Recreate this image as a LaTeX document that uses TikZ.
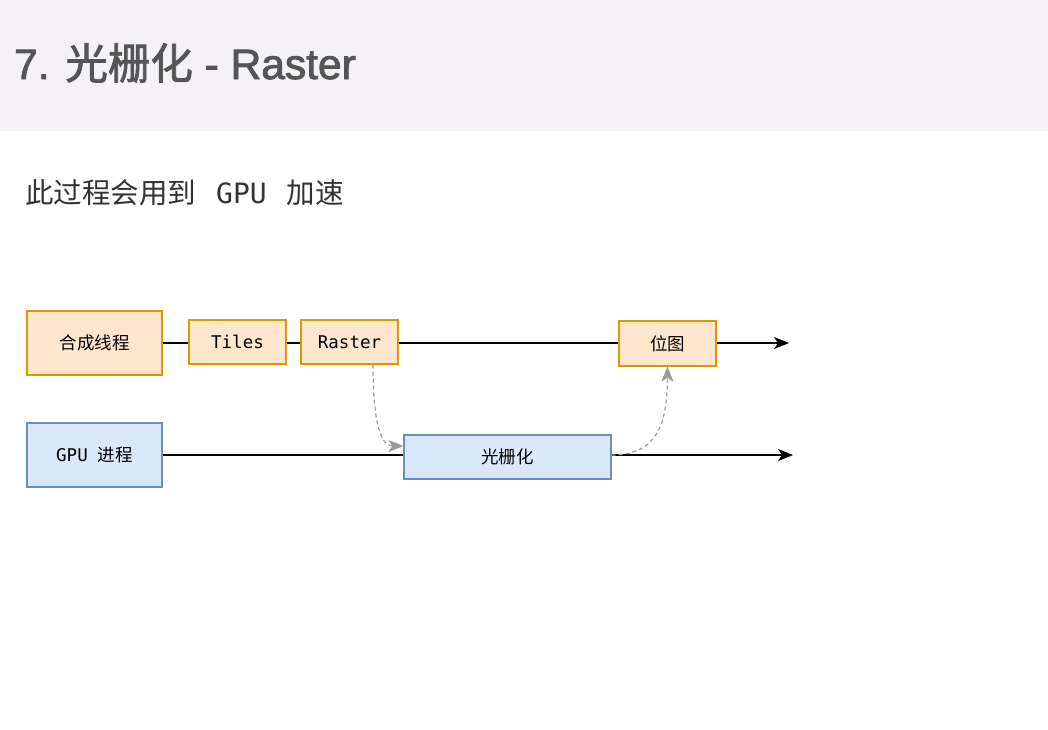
\documentclass[tikz,border=0pt]{standalone}
\usepackage{fontspec}
\setmainfont{Liberation Sans}
\newfontfamily\cjk{Noto Sans CJK SC}
\newfontfamily\ttlf[FakeBold=2]{Liberation Sans}
\newfontfamily\ttlcjk[FakeBold=2]{Noto Sans CJK SC}
\newfontfamily\monof{DejaVu Sans Mono}
\usetikzlibrary{arrows.meta}
\definecolor{hdr}{HTML}{F4F2F7}
\definecolor{ttl}{HTML}{555555}
\definecolor{orfill}{HTML}{FFE6CC}
\definecolor{ordraw}{HTML}{D79B00}
\definecolor{blfill}{HTML}{DAE8FC}
\definecolor{bldraw}{HTML}{6C8EBF}
\definecolor{dashc}{HTML}{999999}
\tikzset{
  obox/.style={draw=ordraw,fill=orfill,line width=1.2pt,inner sep=0pt},
  bbox/.style={draw=bldraw,fill=blfill,line width=1.2pt,inner sep=0pt},
  lbl/.style={font=\fontsize{17.5}{20}\selectfont},
  flow/.style={line width=1.2pt,black},
  tip/.style={-{Stealth[length=15pt,width=12pt,inset=4pt]}},
  dflow/.style={line width=1.2pt,dashc,dash pattern=on 4pt off 3pt,-{Stealth[length=15pt,width=12pt,inset=4pt]}}
}
\begin{document}
\begin{tikzpicture}[x=1pt,y=-1pt]
\useasboundingbox (0,0) rectangle (1048,729);
\fill[hdr] (0,0) rectangle (1048,131);
\node[anchor=base west,inner sep=0pt,text=ttl,font=\fontsize{42.5}{46}\selectfont\ttlf] (title) at (14,79) {7. {\ttlcjk 光栅化} - Raster};
\node[anchor=base west,inner sep=0pt,text=black!80,font=\fontsize{28.5}{32}\selectfont] (sub) at (25,203) {\cjk 此过程会用到\hspace{20pt}{\monof\fontsize{28}{32}\selectfont GPU}\hspace{20pt}加速};
% nodes
\node[obox,minimum width=135pt,minimum height=64pt,lbl] (comp) at (94.5,343) {\cjk 合成线程};
\node[obox,minimum width=97pt,minimum height=44pt,lbl] (tiles) at (237.5,342) {\monof Tiles};
\node[obox,minimum width=97pt,minimum height=44pt,lbl] (raster) at (349.5,342) {\monof Raster};
\node[obox,minimum width=97pt,minimum height=45pt,lbl] (bitmap) at (667.5,343.5) {\cjk 位图};
\node[bbox,minimum width=135pt,minimum height=64pt,lbl] (gpu) at (94.5,455) {{\monof GPU}\hspace{10pt}{\cjk 进程}};
\node[bbox,minimum width=207pt,minimum height=44pt,lbl] (rast) at (507.5,457) {\cjk 光栅化};
\coordinate (endtop) at (789,343);
\coordinate (endbot) at (793,455);
% flows
\draw[flow] (comp.east |- 0,343) -- (tiles.west |- 0,343);
\draw[flow] (tiles.east |- 0,343) -- (raster.west |- 0,343);
\draw[flow] (raster.east |- 0,343) -- (bitmap.west |- 0,343);
\draw[flow,tip] (bitmap.east |- 0,343) -- (endtop);
\draw[flow] (gpu.east) -- (rast.west |- 0,455);
\draw[flow,tip] (rast.east |- 0,455) -- (endbot);
% dashed
\draw[dflow] ([xshift=23.5pt]raster.south) .. controls (373,420) and (380,446) .. (rast.west |- 0,446);
\draw[dflow] (rast.east |- 0,455) .. controls (660,455) and (667,420) .. (bitmap.south);
\end{tikzpicture}
\end{document}
